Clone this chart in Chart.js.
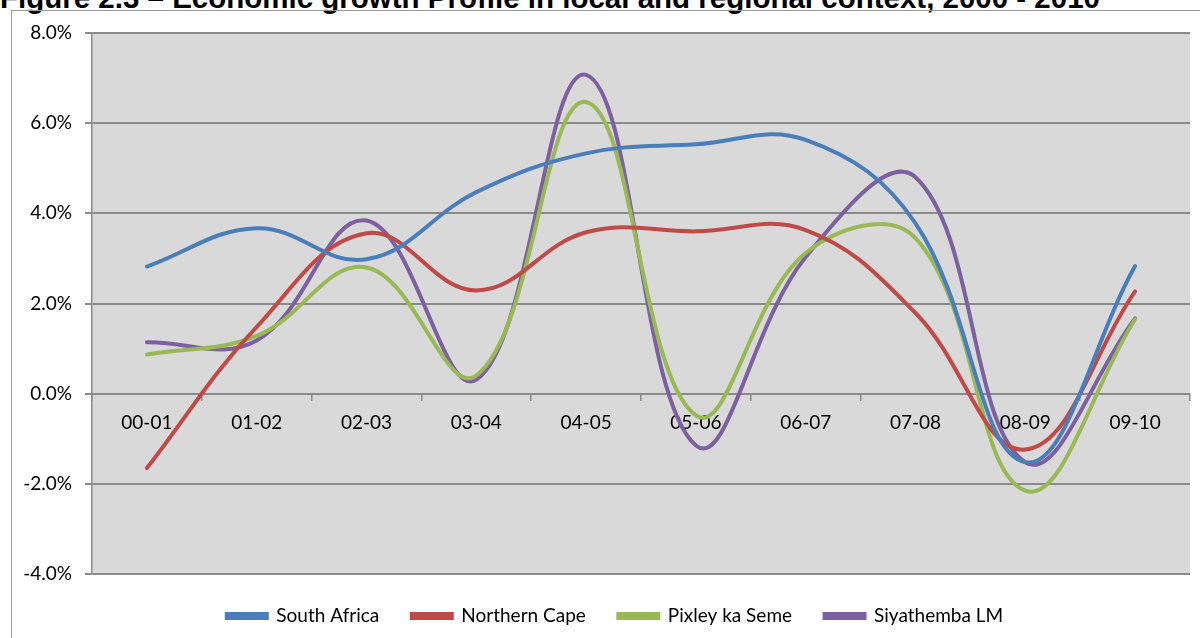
<!DOCTYPE html>
<html>
<head>
<meta charset="utf-8">
<script src="https://cdn.jsdelivr.net/npm/chart.js@4.4.1/dist/chart.umd.min.js"></script>
<style>
  html, body { margin: 0; padding: 0; background: #fff; overflow: hidden; width: 1200px; height: 638px; }
  #title { position: absolute; left: 0; top: -17px; font: bold 29.5px "Liberation Sans", Arial, sans-serif; line-height: 29px; white-space: nowrap; color: #000; }
  #frame { position: absolute; left: 11px; top: 10px; width: 1300px; height: 700px; border-left: 1px solid #9a9a9a; border-top: 1px solid #9a9a9a; }
  #wrap { position: absolute; left: 0; top: 0; width: 1200px; height: 657px; }
</style>
</head>
<body>
<div id="title">Figure 2.3 – Economic growth Profile in local and regional context, 2000 - 2010</div>
<div id="frame"></div>
<div id="wrap"><canvas id="c"></canvas></div>
<script>
const categories = ["00-01", "01-02", "02-03", "03-04", "04-05", "05-06", "06-07", "07-08", "08-09", "09-10"];
const southAfrica = [2.82, 3.67, 2.98, 4.47, 5.33, 5.53, 5.63, 3.78, -1.52, 2.83];
const northernCape = [-1.65, 1.48, 3.56, 2.29, 3.58, 3.6, 3.63, 1.79, -1.24, 2.27];
const pixleyKaSeme = [0.87, 1.28, 2.8, 0.4, 6.47, -0.48, 3.12, 3.45, -2.15, 1.65];
const siyathembaLM = [1.14, 1.18, 3.84, 0.31, 7.07, -1.15, 3.03, 4.8, -1.52, 1.67];
const yTicks = [-4, -2, 0, 2, 4, 6, 8];

const FONT = "Lato";
const GRID = "#8a8a8a";

const plotBg = {
  id: "plotBg",
  beforeDraw(chart) {
    const a = chart.chartArea, ctx = chart.ctx;
    ctx.save();
    ctx.fillStyle = "#d9d9d9";
    ctx.fillRect(a.left, a.top, a.right - a.left, a.bottom - a.top);
    ctx.restore();
  }
};

// shift the legend block to the right so it is centred like the reference frame
const legendShift = {
  id: "legendShift",
  afterLayout(chart) {
    const lg = chart.legend;
    if (lg) { lg.left += 20; lg.right += 20; }
  }
};

function ds(label, data, color) {
  return { label, data, borderColor: color, backgroundColor: color, borderWidth: 4,
           pointRadius: 0, pointHoverRadius: 0, tension: 0.4, fill: false, borderCapStyle: "round" };
}

new Chart(document.getElementById("c"), {
  type: "line",
  data: {
    labels: categories,
    datasets: [
      ds("South Africa", southAfrica, "#4a7ebb"),
      ds("Northern Cape", northernCape, "#be4b48"),
      ds("Pixley ka Seme", pixleyKaSeme, "#98b954"),
      ds("Siyathemba LM", siyathembaLM, "#7d60a0")
    ]
  },
  options: {
    responsive: true,
    maintainAspectRatio: false,
    animation: false,
    layout: { padding: { left: 0, right: 10, top: 33, bottom: 21.5 } },
    plugins: {
      title: { display: false },
      tooltip: { enabled: false },
      legend: {
        position: "bottom",
        labels: {
          font: { family: FONT, size: 19 },
          color: "#000",
          boxWidth: 40,
          boxHeight: 4,
          padding: 32.5
        }
      }
    },
    scales: {
      x: {
        type: "category",
        position: { y: 0 },
        offset: true,
        grid: { display: true, drawOnChartArea: false, drawTicks: true, tickLength: 6, color: GRID, lineWidth: 1.5, offset: true },
        border: { display: true, color: GRID, width: 2 },
        ticks: { font: { family: FONT, size: 19 }, color: "#000", padding: 12, maxRotation: 0, autoSkip: false }
      },
      y: {
        min: -4, max: 8,
        afterBuildTicks(scale) { scale.ticks = yTicks.map(v => ({ value: v })); },
        afterFit(scale) { scale.width = 92; },
        grid: { color: GRID, lineWidth: 2, tickLength: 7 },
        border: { display: true, color: GRID, width: 1.5 },
        ticks: { font: { family: FONT, size: 19 }, color: "#000", padding: 13,
                 callback: v => v.toFixed(1) + "%" }
      }
    }
  },
  plugins: [plotBg, legendShift]
});
</script>
</body>
</html>
